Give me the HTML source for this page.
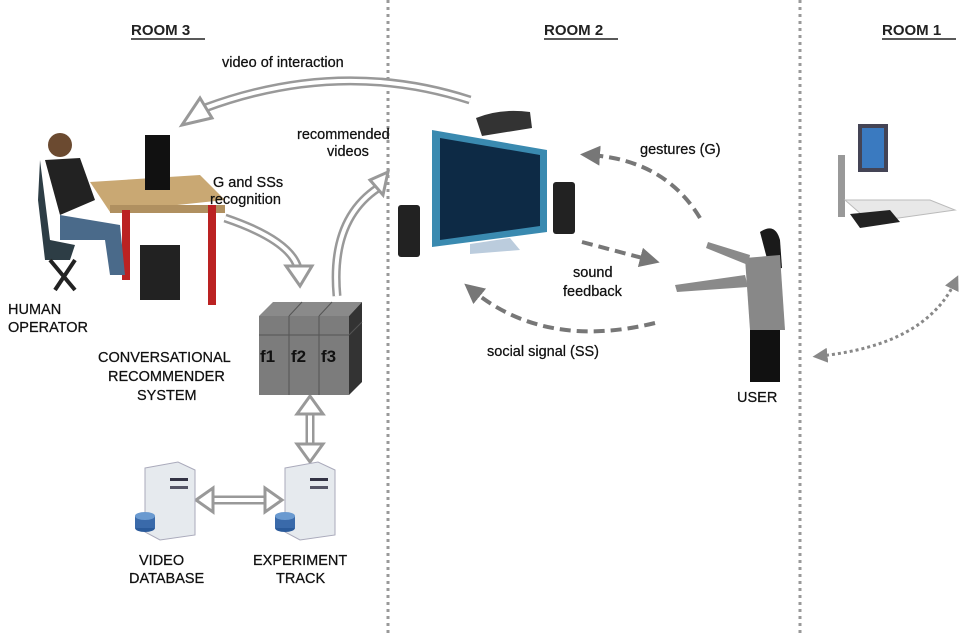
<!DOCTYPE html>
<html><head><meta charset="utf-8"><style>
html,body{margin:0;padding:0;background:#fff;}
svg{display:block;font-family:"Liberation Sans",sans-serif;}
</style></head><body>
<svg width="978" height="633" viewBox="0 0 978 633" xmlns="http://www.w3.org/2000/svg">
<defs>
<marker id="dh" viewBox="0 0 10 10" refX="5" refY="5" markerWidth="5" markerHeight="5" orient="auto-start-reverse" markerUnits="strokeWidth"><path d="M0,0 L10,5 L0,10 z" fill="#777"/></marker>
<marker id="dh2" viewBox="0 0 10 10" refX="5" refY="5" markerWidth="5" markerHeight="5" orient="auto-start-reverse" markerUnits="strokeWidth"><path d="M0,0 L10,5 L0,10 z" fill="#888"/></marker>
</defs>
<line x1="388" y1="0" x2="388" y2="633" stroke="#999" stroke-width="3" stroke-dasharray="3 4"/>
<line x1="800" y1="0" x2="800" y2="633" stroke="#999" stroke-width="3" stroke-dasharray="3 4"/>
<g font-weight="bold" font-size="15" fill="#222">
<text x="131" y="35">ROOM 3</text><line x1="131" y1="39" x2="205" y2="39" stroke="#222" stroke-width="1.5"/>
<text x="544" y="35">ROOM 2</text><line x1="544" y1="39" x2="618" y2="39" stroke="#222" stroke-width="1.5"/>
<text x="882" y="35">ROOM 1</text><line x1="882" y1="39" x2="956" y2="39" stroke="#222" stroke-width="1.5"/>
</g>
<!-- human operator desk -->
<polygon points="90,182 200,175 225,200 110,212" fill="#c9a873"/>
<rect x="110" y="205" width="115" height="8" fill="#b09060"/>
<rect x="122" y="210" width="8" height="70" fill="#b22"/><rect x="208" y="205" width="8" height="100" fill="#b22"/>
<rect x="140" y="245" width="40" height="55" fill="#222"/>
<rect x="145" y="135" width="25" height="55" fill="#111"/>
<circle cx="60" cy="145" r="12" fill="#6b4a30"/>
<path d="M45,160 L80,158 L95,200 L60,215 z" fill="#222"/>
<path d="M60,215 L120,225 L125,275 L110,275 L105,240 L60,240 z" fill="#4a6a8a"/>
<path d="M40,160 L50,240 L75,245 L70,260 L45,260 L38,200 z" fill="#2d3d45"/>
<path d="M50,260 L75,290 M75,260 L55,290" stroke="#222" stroke-width="4"/>
<g fill="none">
<path d="M470,100 Q340,58 205,108" stroke="#999" stroke-width="9"/><path d="M470,100 Q340,58 205,108" stroke="#fff" stroke-width="4"/>
<path d="M225,218 Q290,240 298,268" stroke="#999" stroke-width="9"/><path d="M225,218 Q290,240 298,268" stroke="#fff" stroke-width="4"/>
<path d="M337,296 Q330,220 378,188" stroke="#999" stroke-width="9"/><path d="M337,296 Q330,220 378,188" stroke="#fff" stroke-width="4"/>
<path d="M310,412 V445" stroke="#999" stroke-width="9"/><path d="M310,410 V447" stroke="#fff" stroke-width="4"/>
<path d="M212,500 H265" stroke="#999" stroke-width="9"/><path d="M210,500 H267" stroke="#fff" stroke-width="4"/>
</g>
<g fill="#fff" stroke="#999" stroke-width="3">
<path d="M182,125 L200,98 L212,118 z"/>
<path d="M286,266 L312,266 L300,286 z"/>
<path d="M370,180 L388,172 L383,195 z"/>
<path d="M297,414 L323,414 L310,396 z"/>
<path d="M297,444 L323,444 L310,462 z"/>
<path d="M213,488 L213,512 L196,500 z"/>
<path d="M265,488 L265,512 L282,500 z"/>
</g>
<g fill="none" stroke="#777" stroke-width="4" stroke-dasharray="11 6">
<path d="M700,218 Q665,160 590,155" marker-end="url(#dh)"/>
<path d="M582,242 L650,260" marker-end="url(#dh)"/>
<path d="M655,323 Q545,350 472,290" marker-end="url(#dh)"/>
</g>
<path d="M820,356 Q925,345 955,282" fill="none" stroke="#888" stroke-width="3" stroke-dasharray="3 3" marker-start="url(#dh2)" marker-end="url(#dh2)"/>
<polygon points="259,316 273,302 362,302 349,316" fill="#8a8a8a"/>
<polygon points="349,316 362,302 362,382 349,395" fill="#333"/>
<rect x="259" y="316" width="90" height="79" fill="#7c7c7c"/>
<g stroke="#555" stroke-width="1"><line x1="259" y1="335" x2="349" y2="335"/><line x1="349" y1="335" x2="362" y2="322"/><line x1="289" y1="316" x2="289" y2="395"/><line x1="319" y1="316" x2="319" y2="395"/><line x1="289" y1="316" x2="302" y2="302"/><line x1="319" y1="316" x2="332" y2="302"/></g>
<g font-size="17" font-weight="bold" fill="#111"><text x="260" y="362">f1</text><text x="291" y="362">f2</text><text x="321" y="362">f3</text></g>
<g>
<polygon points="145,468 178,462 195,470 195,535 160,540 145,532" fill="#e6eaee" stroke="#aab" stroke-width="1"/>
<rect x="170" y="478" width="18" height="3" fill="#334"/><rect x="170" y="486" width="18" height="3" fill="#556"/>
<ellipse cx="145" cy="528" rx="10" ry="4" fill="#2a5a9a"/><rect x="135" y="516" width="20" height="12" fill="#3a6aaa"/><ellipse cx="145" cy="516" rx="10" ry="4" fill="#6a9ad0"/>
<polygon points="285,468 318,462 335,470 335,535 300,540 285,532" fill="#e6eaee" stroke="#aab" stroke-width="1"/>
<rect x="310" y="478" width="18" height="3" fill="#334"/><rect x="310" y="486" width="18" height="3" fill="#556"/>
<ellipse cx="285" cy="528" rx="10" ry="4" fill="#2a5a9a"/><rect x="275" y="516" width="20" height="12" fill="#3a6aaa"/><ellipse cx="285" cy="516" rx="10" ry="4" fill="#6a9ad0"/>
</g>
<path d="M476,118 Q500,108 530,112 L532,128 L482,136 z" fill="#333"/>
<polygon points="432,130 547,150 547,232 432,247" fill="#3a8ab0"/>
<polygon points="440,138 540,155 540,226 440,240" fill="#0d2a45"/>
<polygon points="470,244 510,238 520,250 470,254" fill="#bcd"/>
<rect x="398" y="205" width="22" height="52" rx="3" fill="#222"/>
<rect x="553" y="182" width="22" height="52" rx="3" fill="#222"/>
<path d="M760,232 Q775,222 780,240 L782,268 L770,270 z" fill="#1a1a1a"/>
<path d="M745,258 L780,255 L785,330 L750,330 z" fill="#888"/>
<path d="M708,242 L750,255 L748,265 L706,248 z" fill="#8a8a8a"/>
<path d="M675,285 L745,275 L748,287 L677,292 z" fill="#8a8a8a"/>
<rect x="750" y="330" width="30" height="52" fill="#111"/>
<rect x="858" y="124" width="30" height="48" fill="#445"/><rect x="862" y="128" width="22" height="40" fill="#3a7ac0"/>
<rect x="838" y="155" width="7" height="62" fill="#999"/>
<polygon points="845,200 930,200 955,210 870,222" fill="#e8e8e8" stroke="#bbb"/>
<polygon points="850,214 890,210 900,222 860,228" fill="#222"/>
<g font-size="14.5" fill="#111" stroke="#111" stroke-width="0.25">
<text x="222" y="67">video of interaction</text>
<text x="297" y="139">recommended</text><text x="327" y="156">videos</text>
<text x="213" y="187">G and SSs</text><text x="210" y="204">recognition</text>
<text x="640" y="154">gestures (G)</text>
<text x="573" y="277">sound</text><text x="563" y="296">feedback</text>
<text x="487" y="356">social signal (SS)</text>
<text x="8" y="314">HUMAN</text><text x="8" y="332">OPERATOR</text>
<text x="98" y="362">CONVERSATIONAL</text><text x="108" y="381">RECOMMENDER</text><text x="137" y="400">SYSTEM</text>
<text x="737" y="402">USER</text>
<text x="139" y="565">VIDEO</text><text x="129" y="583">DATABASE</text>
<text x="253" y="565">EXPERIMENT</text><text x="276" y="583">TRACK</text>
</g>
</svg>
</body></html>
